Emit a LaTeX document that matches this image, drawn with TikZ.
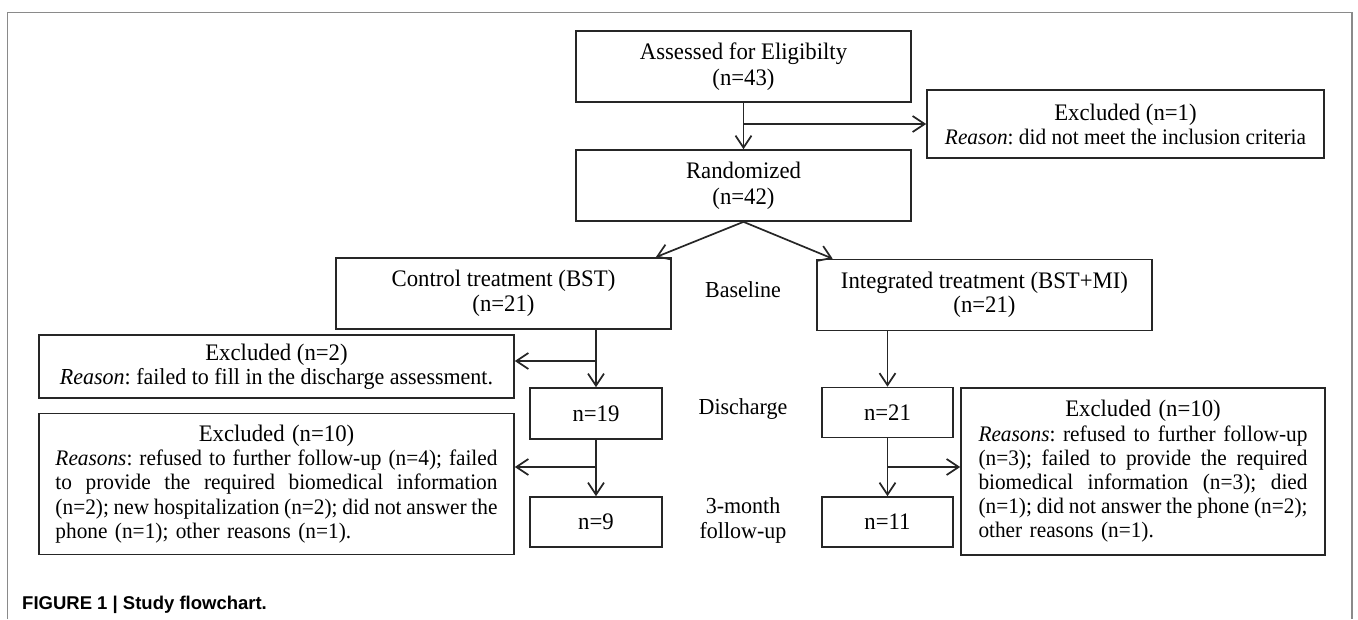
\documentclass[tikz,border=0pt]{standalone}
\usepackage{fontspec}
\setmainfont{Liberation Serif}[FakeStretch=0.96]
\newfontfamily\capfont{Liberation Sans}
\usetikzlibrary{arrows.meta}
\definecolor{linecol}{HTML}{262626}
\definecolor{framecol}{HTML}{8A8A8A}
\newcommand\jline[2]{\leavevmode\hbox to #1{\frenchspacing\spaceskip=0.25em plus 1fil minus 0.1em\relax #2}}
\begin{document}
\begin{tikzpicture}[x=1pt,y=-1pt,
  box/.style={draw=linecol, line width=1.7pt, rectangle, inner sep=0pt, align=center,
    font=\fontsize{23.7}{26.3}\selectfont, text=black},
  exbox/.style={draw=linecol, line width=1.7pt, rectangle, inner sep=0pt,
    font=\fontsize{22.2}{24.2}\selectfont\frenchspacing, text=black},
  conn/.style={draw=linecol, line width=1.7pt},
  arr/.style={conn, -{Straight Barb[length=12pt,width=16pt]}},
  stage/.style={font=\fontsize{22.9}{25}\selectfont, align=center, inner sep=0pt, text=black}
]
\useasboundingbox (0,0) rectangle (1358,619);
% frame
\draw[framecol, line width=1.3pt] (7.6,619) -- (7.6,12.7) -- (1352,12.7) -- (1352,619);

% top boxes
\node[box, minimum width=335pt, minimum height=71pt] (assess) at (743.5,66.5) {Assessed for Eligibilty\\(n=43)};
\node[box, minimum width=335pt, minimum height=71pt] (rand) at (743.5,185.5) {Randomized\\(n=42)};
\node[box, minimum width=397pt, minimum height=68pt, font=\fontsize{22.2}{24}\selectfont\frenchspacing] (excl1) at (1125.5,124)
  {{\fontsize{23.7}{24}\selectfont Excluded (n=1)}\\\textit{Reason}: did not meet the inclusion criteria};

% arms
\node[box, minimum width=335pt, minimum height=71pt, font=\fontsize{23.7}{24.5}\selectfont] (ctrl) at (503.5,293.5) {Control treatment (BST)\\(n=21)};
\node[box, minimum width=335pt, minimum height=71pt, font=\fontsize{23.7}{24.5}\selectfont] (integ) at (984.5,295) {Integrated treatment (BST+MI)\\(n=21)};

% stage labels
\node[stage] (lbase) at (743,290) {Baseline};
\node[stage] (ldis) at (743,409) {Discharge};
\node[stage] (lfol) at (743,520) {3-month\\follow-up};

% left column
\node[box, font=\fontsize{22.9}{24}\selectfont\frenchspacing, minimum width=475pt, minimum height=63pt] (excl2) at (276.5,366.5)
  {{\fontsize{23.7}{24}\selectfont Excluded (n=2)}\\\textit{Reason}: failed to fill in the discharge assessment.};
\node[box, minimum width=132pt, minimum height=51pt] (n19) at (596,413.5) {n=19};
\node[box, minimum width=132pt, minimum height=50pt] (n9) at (596,522) {n=9};
\node[exbox, text width=442pt, minimum width=475pt, minimum height=141pt] (exclL) at (276.5,484)
  {\makebox[442pt]{\fontsize{23.7}{24.2}\selectfont Excluded (n=10)}\\
   \jline{442pt}{\textit{Reasons}: refused to further follow-up (n=4); failed}\\
   \jline{442pt}{to provide the required biomedical information}\\
   \jline{442pt}{(n=2); new hospitalization (n=2); did not answer the}\\
   phone (n=1); other reasons (n=1).};

% right column
\node[box, minimum width=131pt, minimum height=50pt] (n21) at (887.5,412.5) {n=21};
\node[box, minimum width=131pt, minimum height=50pt] (n11) at (887.5,522) {n=11};
\node[exbox, text width=329pt, minimum width=364pt, minimum height=167pt] (exclR) at (1143,471.5)
  {\makebox[329pt]{\fontsize{23.7}{24.2}\selectfont Excluded (n=10)}\\
   \jline{329pt}{\textit{Reasons}: refused to further follow-up}\\
   \jline{329pt}{(n=3); failed to provide the required}\\
   \jline{329pt}{biomedical information (n=3); died}\\
   \jline{329pt}{(n=1); did not answer the phone (n=2);}\\
   other reasons (n=1).};

% connectors
\draw[arr] (assess.south) -- (rand.north);
\draw[arr] (assess.south |- excl1.west) -- (excl1.west);
\draw[arr] (rand.south) -- ([xshift=-16pt]ctrl.north east);
\draw[arr] (rand.south) -- ([xshift=16.5pt]integ.north west);

\draw[arr] (n19.north |- ctrl.south) -- (n19.north);
\coordinate (b2) at (596,361);
\draw[arr] (b2) -- (b2 -| excl2.east);
\draw[arr] (n19.south) -- (n9.north);
\coordinate (b3) at (596,467);
\draw[arr] (b3) -- (b3 -| exclL.east);

\draw[arr] (n21.north |- integ.south) -- (n21.north);
\draw[arr] (n21.south) -- (n11.north);
\coordinate (b4) at (887.5,467);
\draw[arr] (b4) -- (b4 -| exclR.west);

% caption
\node[anchor=base west, inner sep=0pt, font=\capfont\bfseries\fontsize{18.5}{20}\selectfont] (cap) at (22,609.5) {FIGURE 1 | Study flowchart.};
\end{tikzpicture}
\end{document}
